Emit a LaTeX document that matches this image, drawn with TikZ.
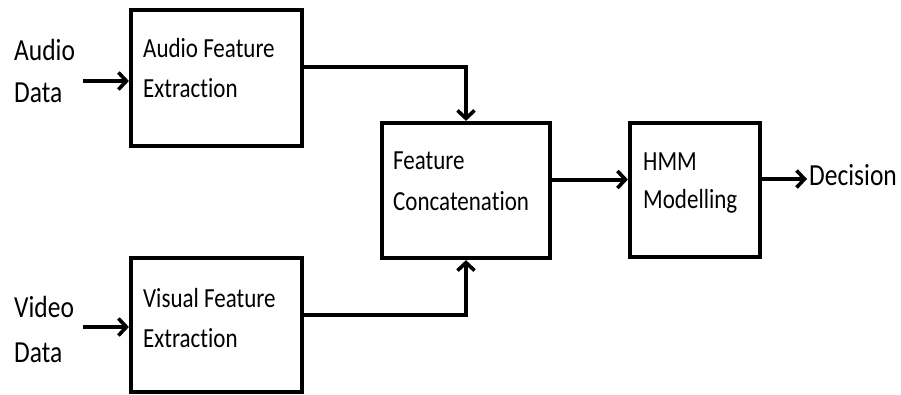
\documentclass[tikz,border=0pt]{standalone}
\usepackage{fontspec}
\setmainfont{Carlito}[RawFeature=-liga]
\usetikzlibrary{arrows.meta}
\newcommand\vstretch[1]{\scalebox{1}[1.2]{#1}}
\begin{document}
\begin{tikzpicture}[x=1pt,y=-1pt,
  blockbox/.style={draw,line width=4.2pt,inner sep=0pt},
  arr/.style={line width=4pt,-{Straight Barb[length=8pt,width=17pt,line width=3.6pt]}},
  txt/.style={anchor=base west,inner sep=0pt,font=\fontsize{23}{28}\selectfont},
  lbl/.style={anchor=base west,inner sep=0pt,font=\fontsize{25.5}{30}\selectfont}]
\useasboundingbox (0,0) rectangle (901,394);
% boxes
\node[blockbox,minimum width=171pt,minimum height=136pt] (afe) at (216.5,78) {};
\node[blockbox,minimum width=171pt,minimum height=134pt] (vfe) at (216.5,325) {};
\node[blockbox,minimum width=168pt,minimum height=135pt] (fc) at (466,190.5) {};
\node[blockbox,minimum width=130pt,minimum height=134pt] (hmm) at (695,190) {};
% box texts
\node[txt] (t1) at (143,57) {\vstretch{Audio Feature}};
\node[txt] (t2) at (143,97) {\vstretch{Extraction}};
\node[txt] (t3) at (143,307) {\vstretch{Visual Feature}};
\node[txt] (t4) at (143,347) {\vstretch{Extraction}};
\node[txt] (t5) at (393,169) {\vstretch{Feature}};
\node[txt] (t6) at (393,210) {\vstretch{Concatenation}};
\node[txt] (t7) at (643,170) {\vstretch{HMM}};
\node[txt] (t8) at (643,208) {\vstretch{Modelling}};
% outside labels
\node[lbl] (l1) at (14,60) {\vstretch{Audio}};
\node[lbl] (l2) at (14,102) {\vstretch{Data}};
\node[lbl] (l3) at (14,317) {\vstretch{Video}};
\node[lbl] (l4) at (14,362) {\vstretch{Data}};
\node[lbl] (dec) at (809,185) {\vstretch{Decision}};
% connectors
\coordinate (ain) at (83,81);
\coordinate (vin) at (83,327);
\coordinate (dout) at (807,179);
\draw[arr] (ain) -- (ain -| afe.west);
\draw[arr] (vin) -- (vin -| vfe.west);
\draw[arr] ([yshift=11pt]afe.east) -| (fc.north);
\draw[arr] ([yshift=10pt]vfe.east) -| (fc.south);
\draw[arr] ([yshift=11pt]fc.east) -- ([yshift=11pt]fc.east -| hmm.west);
\draw[arr] ([yshift=11pt]hmm.east) -- (dout);
\end{tikzpicture}
\end{document}
